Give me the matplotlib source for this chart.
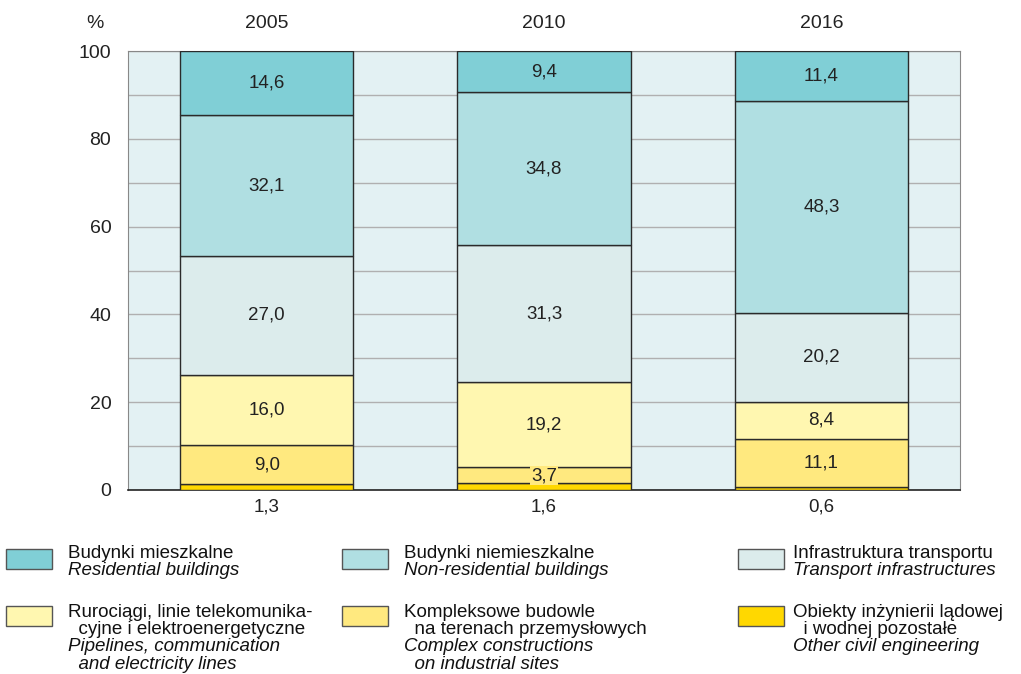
import numpy as np
import matplotlib.pyplot as plt
from matplotlib.patches import Rectangle

plt.rcParams['font.family'] = ['Liberation Sans', 'DejaVu Sans']

# Dane
lata = ['2005', '2010', '2016']
inne = [1.3, 1.6, 0.6]
kompleksowe = [9.0, 3.7, 11.1]
rurociagi = [16.0, 19.2, 8.4]
transport = [27.0, 31.3, 20.2]
niemieszkalne = [32.1, 34.8, 48.3]
mieszkalne = [14.6, 9.4, 11.4]

serie = [inne, kompleksowe, rurociagi, transport, niemieszkalne, mieszkalne]
kolory = ['#ffd800', '#ffe97f', '#fff7b0', '#dcecec', '#b0dfe2', '#80cfd6']

legenda_pl = [['Budynki mieszkalne'], ['Budynki niemieszkalne'], ['Infrastruktura transportu'],
              ['Rurociągi, linie telekomunika-', '  cyjne i elektroenergetyczne'],
              ['Kompleksowe budowle', '  na terenach przemysłowych'],
              ['Obiekty inżynierii lądowej', '  i wodnej pozostałe']]
legenda_en = [['Residential buildings'], ['Non-residential buildings'], ['Transport infrastructures'],
              ['Pipelines, communication', '  and electricity lines'],
              ['Complex constructions', '  on industrial sites'],
              ['Other civil engineering']]
legenda_kolory = [kolory[5], kolory[4], kolory[3], kolory[2], kolory[1], kolory[0]]

W, H = 1021, 674
fig = plt.figure(figsize=(W / 100, H / 100), dpi=100)
ax = fig.add_axes([128 / W, 1 - 490 / H, 832 / W, 439 / H])
ax.set_facecolor('#e3f1f3')

x = np.arange(len(lata)) + 0.5
szer = 0.624
dol = np.zeros(len(lata))
for i, (s, k) in enumerate(zip(serie, kolory)):
    ax.bar(x, s, szer, bottom=dol, color=k, edgecolor='#2a2a2a', linewidth=1.0, zorder=3)
    for j in range(len(lata)):
        etykieta = f'{s[j]:.1f}'.replace('.', ',')
        if i == 0:
            ax.text(x[j], -3.8, etykieta, ha='center', va='center',
                    fontsize=13.5, color='#222222', clip_on=False)
        elif s[j] < 5:
            ax.text(x[j], dol[j] + s[j] / 2 - 0.2, etykieta, ha='center',
                    va='center', fontsize=13.5, color='#222222', zorder=5,
                    bbox=dict(boxstyle='square,pad=0.05', fc=k, ec='none'))
        else:
            ax.text(x[j], dol[j] + s[j] / 2, etykieta, ha='center',
                    va='center', fontsize=13.5, color='#222222', zorder=5)
    dol += np.array(s)

for j, r in enumerate(lata):
    ax.text(x[j], 106.3, r, ha='center', va='center', fontsize=14, color='#222222')
ax.text(-0.12, 106.3, '%', ha='center', va='center', fontsize=14, color='#222222')

ax.set_xlim(0, 3)
ax.set_ylim(0, 100)
ax.set_yticks(np.arange(0, 101, 20))
ax.set_yticks(np.arange(0, 101, 10), minor=True)
ax.set_xticks([])
ax.tick_params(axis='y', which='both', length=0, labelsize=14, pad=12, labelcolor='#222222')
ax.grid(axis='y', which='both', color='#b0b0b0', linewidth=1.0, zorder=0)
for sp in ['top', 'right', 'left']:
    ax.spines[sp].set_color('#888888')
ax.spines['bottom'].set_color('#222222')
ax.spines['bottom'].set_linewidth(1.2)

# Legenda (wspolrzedne w pikselach)
kol_x = [6, 342, 738]
tekst_x = [68, 404, 793]
wiersz_baza = [558, 617]   # linia bazowa pierwszej linii tekstu
wiersz_kw = [549, 606]
krok = 17.2
for i in range(6):
    c = i % 3
    w = i // 3
    fig.patches.append(Rectangle((kol_x[c] / W, 1 - (wiersz_kw[w] + 20) / H), 46 / W, 20 / H,
                                 transform=fig.transFigure, facecolor=legenda_kolory[i],
                                 edgecolor='#555555', linewidth=1.0))
    y = wiersz_baza[w]
    for linia in legenda_pl[i]:
        fig.text(tekst_x[c] / W, 1 - y / H, linia, ha='left', va='baseline',
                 fontsize=13.5, color='#111111')
        y += krok
    for linia in legenda_en[i]:
        fig.text(tekst_x[c] / W, 1 - y / H, linia, ha='left', va='baseline',
                 fontsize=13.5, style='italic', color='#111111')
        y += krok

fig.savefig('out.png', dpi=100)
